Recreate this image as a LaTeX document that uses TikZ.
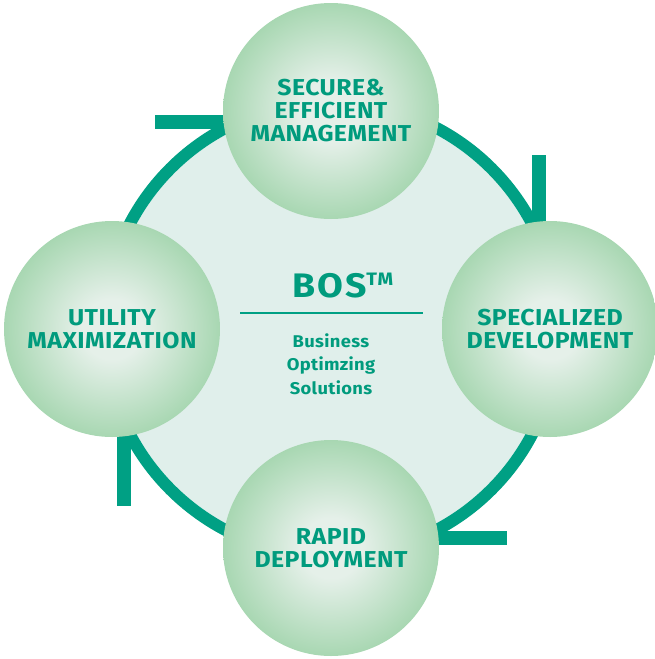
\documentclass[tikz,border=0pt]{standalone}
\usepackage{fontspec}
\setmainfont{Fira Sans}[FakeStretch=1.08, LetterSpace=2]
\newfontfamily\bosfont{Fira Sans}[FakeStretch=1.1, LetterSpace=5]
\definecolor{ringteal}{RGB}{0,160,132}
\definecolor{tealtxt}{RGB}{0,155,125}
\definecolor{innerfill}{RGB}{224,239,235}
\definecolor{satin}{RGB}{229,240,233}
\definecolor{satout}{RGB}{168,215,178}
\pgfdeclareradialshading{satshade}{\pgfpoint{0bp}{0bp}}{color(0bp)=(satin); color(7bp)=(satin); color(25bp)=(satout); color(50bp)=(satout)}
\tikzset{
  sat/.style={circle, minimum size=216pt, inner sep=0pt, shading=satshade,
    font=\fontsize{23}{23}\selectfont\bfseries, text=tealtxt, align=center},
  barb/.style={fill=ringteal, draw=none},
  ringline/.style={draw=ringteal, line width=12pt},
  subtxt/.style={font=\fontsize{17}{23.3}\selectfont\bfseries, text=tealtxt, align=center},
}
\begin{document}
\begin{tikzpicture}[x=1pt,y=-1pt]
\useasboundingbox (0,0) rectangle (655,659);
\coordinate (hub) at (331,329);
% inner disc and ring
\fill[innerfill] (hub) circle[radius=221];
\draw[ringline] (hub) circle[radius=227];
% arrow barbs
\fill[barb] (155,115) rectangle (240,129);
\fill[barb] (532,155) rectangle (546,240);
\fill[barb] (425,531) rectangle (507,545);
\fill[barb] (117,420) rectangle (131,506);
% satellites
\node[sat] (secure) at (331,111) {SECURE\&\\EFFICIENT\\MANAGEMENT};
\node[sat] (special) at (550,329) {SPECIALIZED\\DEVELOPMENT};
\node[sat] (rapid) at (331,548) {RAPID\\DEPLOYMENT};
\node[sat] (utility) at (112,329) {UTILITY\\MAXIMIZATION};
% centre
\node[anchor=base, inner sep=0pt, text=tealtxt, font=\bosfont\fontsize{34}{34}\selectfont\bfseries] (bos) at (343,297) {BOS\raisebox{12pt}{\fontsize{18}{18}\selectfont TM}};
\coordinate (rl) at (240,313);
\coordinate (rr) at (423,313);
\draw[ringteal, line width=1.3pt] (rl) -- (rr);
\node[subtxt, anchor=center] (bosname) at (331,364) {Business\\Optimzing\\Solutions};
\end{tikzpicture}
\end{document}
